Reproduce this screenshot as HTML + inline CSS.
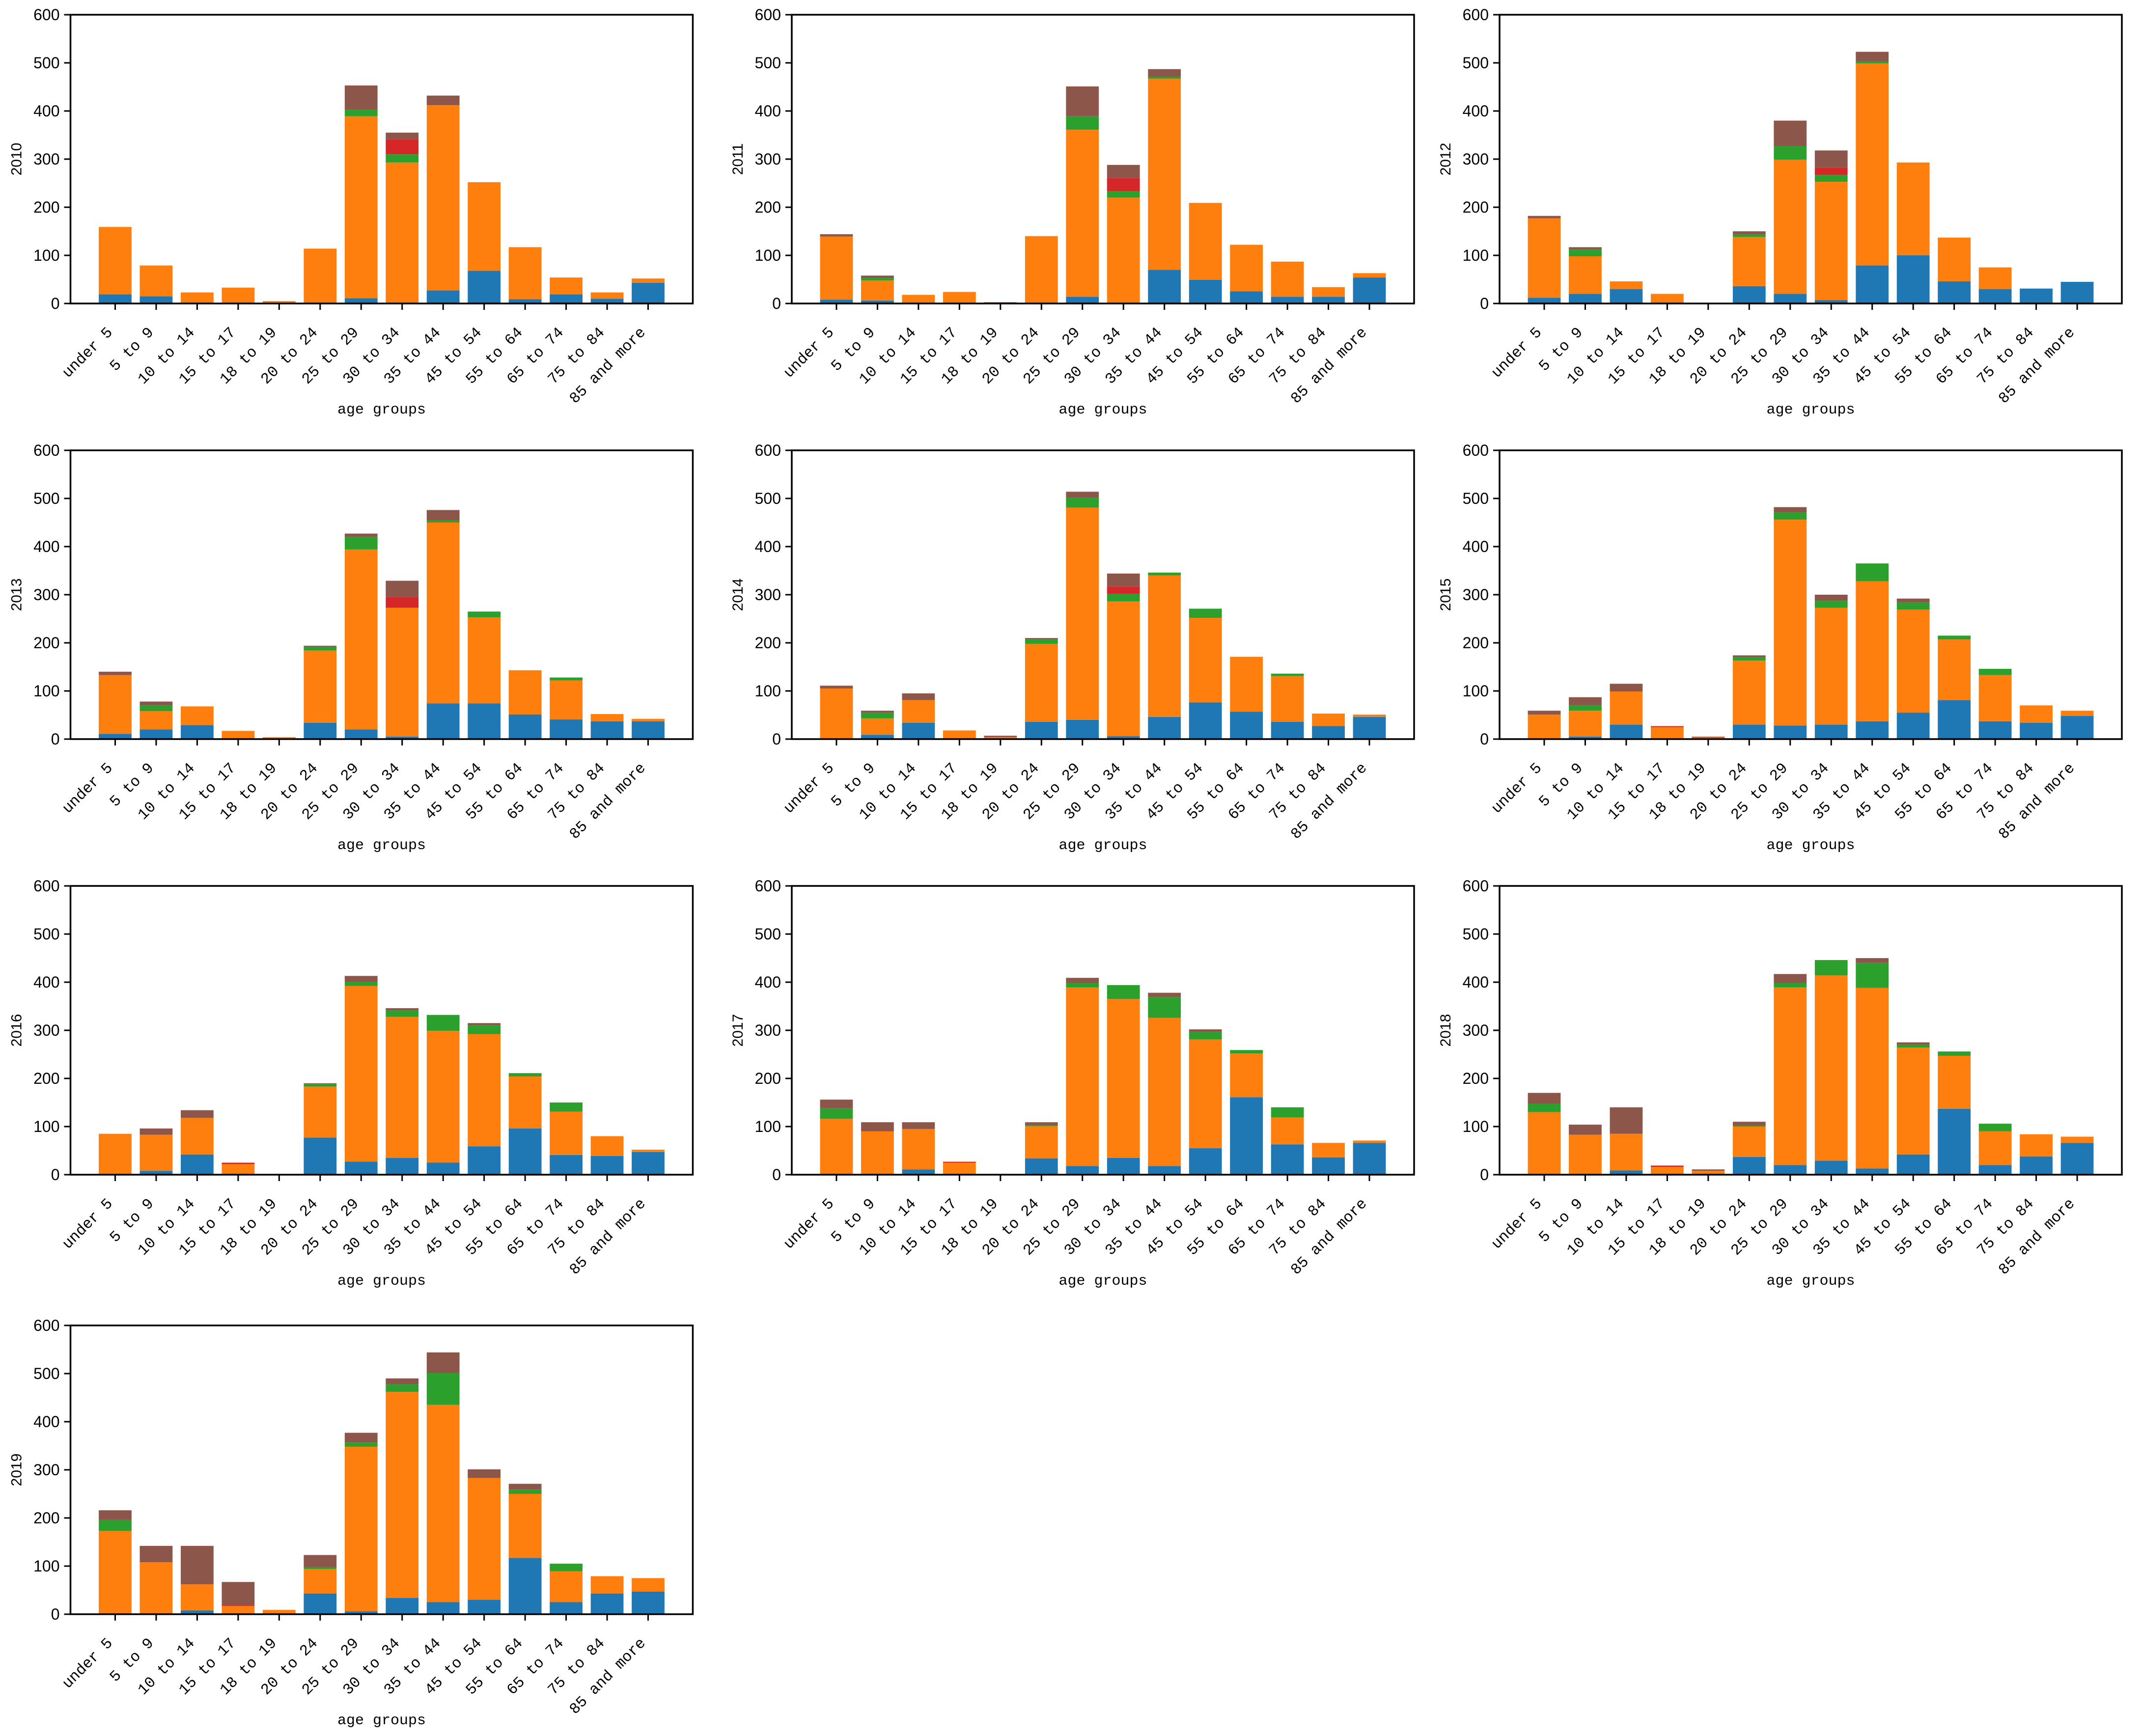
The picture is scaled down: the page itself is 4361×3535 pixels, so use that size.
<!DOCTYPE html>
<html><head><meta charset="utf-8">
<style>
html,body{margin:0;padding:0;background:#fff;}
svg{display:block;}
.yt{font-family:"Liberation Sans Narrow","Liberation Sans",sans-serif;font-size:32px;}
.xt{font-family:"Liberation Mono",monospace;font-size:31px;}
.xl{font-family:"Liberation Mono",monospace;font-size:30px;}
.yl{font-family:"Liberation Sans",sans-serif;font-size:30px;}
</style></head>
<body>
<svg id="fig" xmlns="http://www.w3.org/2000/svg" width="4361" height="3535" viewBox="0 0 4361 3535"></svg>
<script>
const categories = ["under 5","5 to 9","10 to 14","15 to 17","18 to 19","20 to 24","25 to 29","30 to 34","35 to 44","45 to 54","55 to 64","65 to 74","75 to 84","85 and more"];
const years = ["2010","2011","2012","2013","2014","2015","2016","2017","2018","2019"];
const yTicks = [0,100,200,300,400,500,600];
const seriesColors = ["#1f77b4","#ff7f0e","#2ca02c","#d62728","#8c564b"];

const blue2010=[19,15,0,0,0,0,11,0,27,68,9,19,10,43];
const orange2010=[140,64,23,33,5,114,378,293,385,184,108,35,13,9];
const green2010=[0,0,0,0,0,0,14,17,0,0,0,0,0,0];
const red2010=[0,0,0,0,0,0,0,31,0,0,0,0,0,0];
const brown2010=[0,0,0,0,0,0,50,14,20,0,0,0,0,0];

const blue2011=[8,6,0,0,0,0,14,0,70,49,25,14,14,54];
const orange2011=[131,42,18,24,3,140,347,220,397,160,97,73,20,9];
const green2011=[0,5,0,0,0,0,28,13,4,0,0,0,0,0];
const red2011=[0,0,0,0,0,0,0,28,0,0,0,0,0,0];
const brown2011=[5,5,0,0,0,0,62,27,16,0,0,0,0,0];

const blue2012=[12,20,30,0,0,36,20,7,79,100,46,30,31,45];
const orange2012=[165,78,16,20,0,102,279,246,420,193,91,45,0,0];
const green2012=[0,14,0,0,0,5,28,14,4,0,0,0,0,0];
const red2012=[0,0,0,0,0,0,0,15,0,0,0,0,0,0];
const brown2012=[5,5,0,0,0,7,53,36,20,0,0,0,0,0];

const blue2013=[11,20,29,0,0,34,20,5,74,74,51,41,37,37];
const orange2013=[122,38,39,17,4,150,374,268,376,179,92,81,15,5];
const green2013=[0,12,0,0,0,8,26,0,4,12,0,6,0,0];
const red2013=[0,0,0,0,0,0,0,22,0,0,0,0,0,0];
const brown2013=[7,8,0,0,0,2,7,34,22,0,0,0,0,0];

const blue2014=[0,9,34,0,0,36,40,6,46,76,57,36,27,46];
const orange2014=[105,34,47,18,4,162,441,280,294,176,114,95,26,5];
const green2014=[0,12,0,0,0,9,21,16,6,19,0,5,0,0];
const red2014=[0,0,0,0,0,0,0,15,0,0,0,0,0,0];
const brown2014=[6,4,14,0,3,3,12,27,0,0,0,0,0,0];

const blue2015=[0,5,30,0,0,30,28,30,37,55,81,37,34,48];
const orange2015=[51,54,69,25,3,133,428,243,291,214,126,96,36,11];
const green2015=[0,11,0,0,0,7,15,14,37,15,8,13,0,0];
const red2015=[0,0,0,2,0,0,0,0,0,0,0,0,0,0];
const brown2015=[8,17,16,0,2,4,11,13,0,8,0,0,0,0];

const blue2016=[0,8,42,0,0,77,27,35,25,59,96,41,39,47];
const orange2016=[85,75,76,22,0,106,365,293,274,233,108,90,41,5];
const green2016=[0,0,0,0,0,5,9,13,33,18,7,19,0,0];
const red2016=[0,0,0,3,0,0,0,0,0,0,0,0,0,0];
const brown2016=[0,13,16,0,0,2,12,5,0,5,0,0,0,0];

const blue2017=[0,0,11,0,0,34,18,35,18,55,161,63,36,66];
const orange2017=[116,90,84,25,0,67,371,330,308,226,91,56,30,5];
const green2017=[22,0,0,0,0,2,9,29,43,16,7,21,0,0];
const red2017=[0,0,0,2,0,0,0,0,0,0,0,0,0,0];
const brown2017=[18,19,14,0,0,6,11,0,9,5,0,0,0,0];

const blue2018=[0,0,9,0,0,37,20,29,13,42,137,20,38,66];
const orange2018=[130,83,76,16,8,63,369,385,375,222,110,70,46,13];
const green2018=[17,0,0,0,0,2,9,32,52,6,9,16,0,0];
const red2018=[0,0,0,3,0,0,0,0,0,0,0,0,0,0];
const brown2018=[23,21,55,0,3,8,19,0,10,5,0,0,0,0];

const blue2019=[0,0,8,0,1,43,6,34,25,30,117,25,43,47];
const orange2019=[173,108,54,17,8,51,342,428,410,253,133,64,36,28];
const green2019=[23,0,0,0,0,4,9,16,66,0,9,16,0,0];
const red2019=[0,0,0,2,0,0,0,0,0,0,0,0,0,0];
const brown2019=[20,34,80,48,0,25,20,12,43,18,12,0,0,0];

const panelSeries = [
 [blue2010,orange2010,green2010,red2010,brown2010],
 [blue2011,orange2011,green2011,red2011,brown2011],
 [blue2012,orange2012,green2012,red2012,brown2012],
 [blue2013,orange2013,green2013,red2013,brown2013],
 [blue2014,orange2014,green2014,red2014,brown2014],
 [blue2015,orange2015,green2015,red2015,brown2015],
 [blue2016,orange2016,green2016,red2016,brown2016],
 [blue2017,orange2017,green2017,red2017,brown2017],
 [blue2018,orange2018,green2018,red2018,brown2018],
 [blue2019,orange2019,green2019,red2019,brown2019]
];
const seriesNames = ["blue","orange","green","red","brown"];

const NS = "http://www.w3.org/2000/svg";
const svg = document.getElementById("fig");
function mk(tag, attrs, parent){
  const e = document.createElementNS(NS, tag);
  for (const k in attrs) e.setAttribute(k, attrs[k]);
  (parent||svg).appendChild(e);
  return e;
}
const colLeft = [143.5, 1612, 3053];
const rowTop = [30, 917, 1804, 2699];
const W = 1267, H = 588;
const xMin = -1.09, xMax = 14.09, yMax = 600;

years.forEach((yr, p) => {
  const L = colLeft[p % 3], T = rowTop[Math.floor(p / 3)], B = T + H;
  const xs = v => L + (v - xMin) / (xMax - xMin) * W;
  const ys = v => B - v / yMax * H;
  const g = mk("g", {});
  
  
  const series = panelSeries[p];
  categories.forEach((c, i) => {
    let base = 0;
    series.forEach((arr, s) => {
      const v = arr[i];
      if (v > 0) {
        const r = mk("rect", {x: xs(i - 0.4), y: ys(base + v), width: xs(i + 0.4) - xs(i - 0.4), height: ys(base) - ys(base + v), fill: seriesColors[s]}, g);
        
        
      }
      base += v;
    });
    const tk = mk("line", {x1: xs(i), x2: xs(i), y1: B, y2: B + 13, stroke: "#000", "stroke-width": 3}, g);
    
    
    const px = xs(i) - 4, py = B + 60;
    const t = mk("text", {x: px, y: py, "text-anchor": "end", class: "xt", transform: "rotate(-45 " + px + " " + py + ")"}, g);
    t.textContent = c;
    
    
  });
  yTicks.forEach(v => {
    const tk = mk("line", {x1: L - 13, x2: L, y1: ys(v), y2: ys(v), stroke: "#000", "stroke-width": 3}, g);
    
    
    const t = mk("text", {x: L - 22, y: ys(v) + 11, "text-anchor": "end", class: "yt"}, g);
    t.textContent = v;
    
    
  });
  const fr = mk("rect", {x: L, y: T, width: W, height: H, fill: "none", stroke: "#000", "stroke-width": 3.5}, g);
  
  
  const xl = mk("text", {x: L + W / 2, y: T + 812, "text-anchor": "middle", class: "xl"}, g);
  xl.textContent = "age groups";
  
  
  const yx = L - 100, yy = T + H / 2;
  const yl = mk("text", {x: yx, y: yy, "text-anchor": "middle", class: "yl", transform: "rotate(-90 " + yx + " " + yy + ")"}, g);
  yl.textContent = yr;
  
  
});
</script>
</body></html>
